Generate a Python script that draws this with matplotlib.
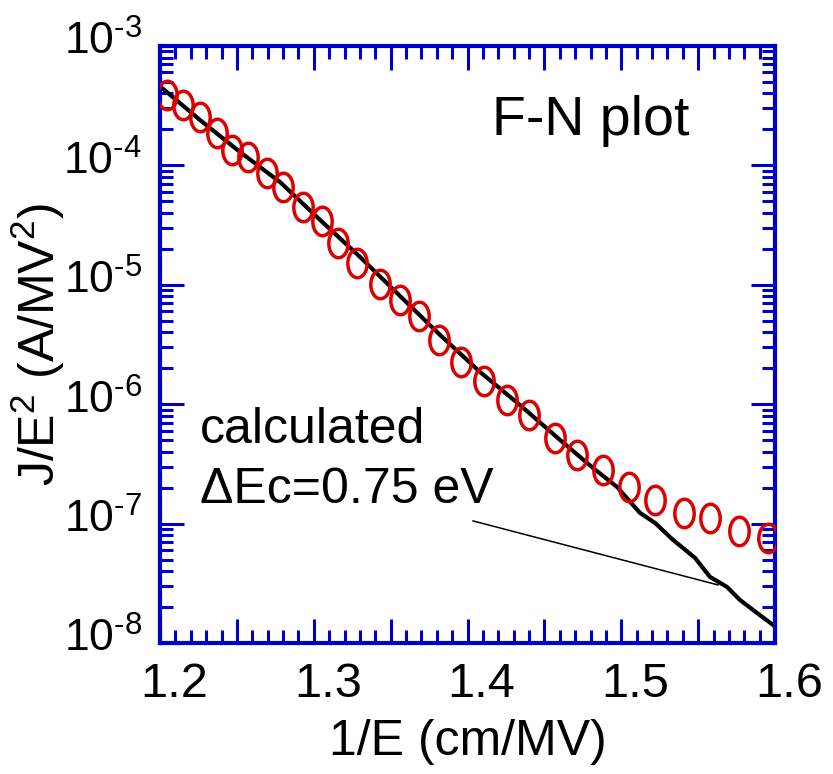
import matplotlib
matplotlib.use("Agg")
import matplotlib.pyplot as plt
import numpy as np
from matplotlib.path import Path
from matplotlib.ticker import FixedLocator, LogLocator, NullFormatter
from matplotlib.transforms import ScaledTranslation

plt.rcParams['font.family'] = ['Liberation Sans', 'DejaVu Sans']
plt.rcParams['mathtext.fontset'] = 'custom'
plt.rcParams['mathtext.rm'] = 'Liberation Sans'
plt.rcParams['mathtext.it'] = 'Liberation Sans:italic'

# measured data (1/E in cm/MV, J/E^2 in A/MV^2)
inv_e_meas = [1.2046, 1.2150, 1.2260, 1.2371, 1.2468, 1.2572, 1.2696, 1.2800,
              1.2930, 1.3054, 1.3158, 1.3281, 1.3431, 1.3561, 1.3685, 1.3815,
              1.3958, 1.4107, 1.4257, 1.4400, 1.4569, 1.4712, 1.4881, 1.5050,
              1.5220, 1.5408, 1.5577, 1.5766, 1.5954]
log_je2_meas = [-3.410, -3.494, -3.595, -3.729, -3.871, -3.930, -4.064, -4.181,
                -4.348, -4.466, -4.650, -4.817, -4.993, -5.127, -5.261, -5.462,
                -5.647, -5.806, -5.965, -6.090, -6.283, -6.425, -6.551, -6.693,
                -6.802, -6.911, -6.953, -7.062, -7.121]

# calculated curve, dEc = 0.75 eV
inv_e_calc = [1.2013, 1.2260, 1.2520, 1.2780, 1.3041, 1.3301, 1.3561, 1.3821,
              1.4081, 1.4341, 1.4602, 1.4816, 1.4972, 1.5122, 1.5220, 1.5337,
              1.5480, 1.5577, 1.5688, 1.5772, 1.5883, 1.5987]
log_je2_calc = [-3.352, -3.620, -3.888, -4.139, -4.457, -4.767, -5.094, -5.420,
                -5.730, -6.007, -6.300, -6.534, -6.693, -6.911, -6.995, -7.137,
                -7.288, -7.447, -7.531, -7.640, -7.749, -7.849]

x_ticks = [1.2, 1.25, 1.3, 1.35, 1.4, 1.45, 1.5, 1.55, 1.6]
x_labels = ['1.2', '', '1.3', '', '1.4', '', '1.5', '', '1.6']
y_ticks = [1e-8, 1e-7, 1e-6, 1e-5, 1e-4, 1e-3]
y_labels = ['10$^{\\text{-}8}$', '10$^{\\text{-}7}$', '10$^{\\text{-}6}$',
            '10$^{\\text{-}5}$', '10$^{\\text{-}4}$', '10$^{\\text{-}3}$']

blue = '#0000cc'
red = '#dd0000'

# tall ellipse marker like the original
t = np.linspace(0, 2 * np.pi, 60)
ellipse = Path(np.column_stack([0.68 * np.cos(t), np.sin(t)]), closed=True)

fig = plt.figure(figsize=(8.33, 7.74), dpi=100)
ax = fig.add_axes([0.1921, 0.1693, 0.7383, 0.7713])

ax.plot(inv_e_calc, 10 ** np.array(log_je2_calc), color='black', lw=3, zorder=2)
ax.plot(inv_e_meas, 10 ** np.array(log_je2_meas), ls='none', marker=ellipse,
        ms=20.5, mfc='none', mec=red, mew=2.5, zorder=3)

# pointer from the label to the curve
ax.plot([1.4036, 1.5629], [10 ** -6.978, 10 ** -7.514], color='black', lw=1.1)

ax.set_yscale('log')
ax.set_xlim(1.2, 1.6)
ax.set_ylim(1e-8, 1e-3)

ax.xaxis.set_major_locator(FixedLocator(x_ticks))
ax.set_xticklabels(x_labels)
ax.xaxis.set_minor_locator(FixedLocator(np.arange(1.2, 1.6001, 0.01)))
ax.set_yticks(y_ticks)
ax.set_yticklabels(y_labels)
ax.yaxis.set_minor_locator(LogLocator(base=10, subs=np.arange(2, 10)))
ax.yaxis.set_minor_formatter(NullFormatter())

for s in ax.spines.values():
    s.set_color(blue)
    s.set_linewidth(3)
ax.tick_params(which='both', direction='in', top=True, right=True, color=blue, width=2.2)
ax.tick_params(which='major', length=17)
ax.tick_params(which='minor', length=9.5)
ax.tick_params(axis='x', which='major', labelsize=35, pad=14)
ax.tick_params(axis='y', which='major', labelsize=32, pad=13)

# the original software sets its tick labels a little off the ticks
for lab in ax.get_xticklabels():
    lab.set_transform(lab.get_transform() + ScaledTranslation(0.14, 0, fig.dpi_scale_trans))
for lab in ax.get_yticklabels():
    lab.set_transform(lab.get_transform() + ScaledTranslation(0, 0.08, fig.dpi_scale_trans))

ax.set_xlabel('1/E (cm/MV)', fontsize=36, labelpad=8)
ax.set_ylabel('J/E$^2$ (A/MV$^2$)', fontsize=36, labelpad=-3)

ax.text(0.54, 0.851, 'F-N plot', transform=ax.transAxes, fontsize=40, va='baseline')
ax.text(0.065, 0.335, 'calculated', transform=ax.transAxes, fontsize=36, va='baseline')
ax.text(0.065, 0.2345, '\u0394Ec=0.75 eV', transform=ax.transAxes, fontsize=36, va='baseline')

fig.savefig('out.png', dpi=100)
